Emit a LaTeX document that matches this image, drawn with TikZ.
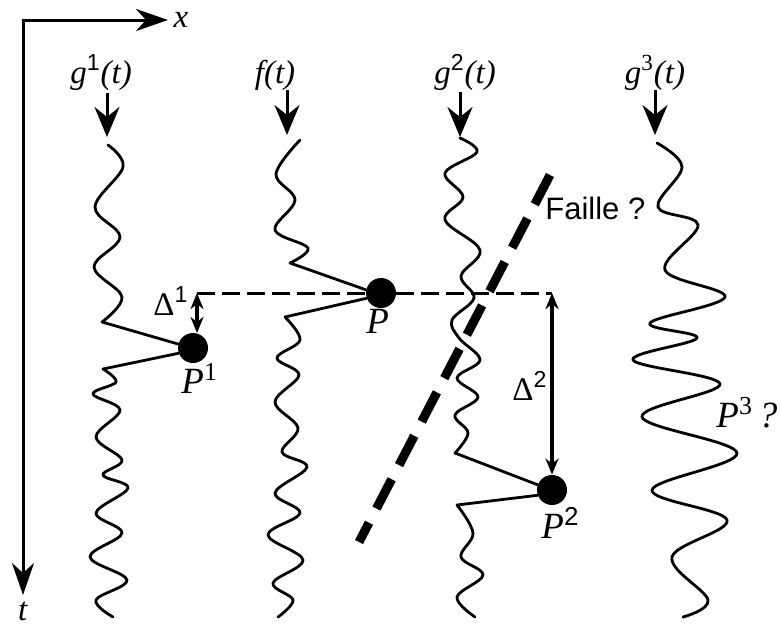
\documentclass[tikz,border=0pt]{standalone}
\usepackage{fontspec}
\setmainfont{Liberation Serif}
\setsansfont{Liberation Sans}
\usetikzlibrary{arrows.meta}
\begin{document}
\begin{tikzpicture}[x=0.5pt,y=-0.5pt,
  trace/.style={line width=1.4pt, line join=round, line cap=round},
  axis/.style={line width=1.5pt, line cap=rect, -{Stealth[length=16pt,width=11pt,inset=5pt]}},
  pointer/.style={line width=1.5pt, -{Stealth[length=15pt,width=12.5pt,inset=5pt]}},
  gap/.style={line width=2pt, {Stealth[length=8pt,width=6.5pt,inset=2.5pt]}-{Stealth[length=8pt,width=6.5pt,inset=2.5pt]}},
  refline/.style={line width=1.5pt, dash pattern=on 9pt off 3.5pt},
  fault/.style={line width=4.5pt, dash pattern=on 16.5pt off 8pt},
  dot/.style={circle, fill, inner sep=0pt, minimum size=15pt},
  lab/.style={font=\fontsize{16.5}{19}\selectfont, inner sep=0pt, anchor=base},
  plab/.style={font=\fontsize{18.5}{21}\selectfont, inner sep=0pt, anchor=base west},
  dlab/.style={font=\fontsize{16.5}{19}\selectfont, inner sep=0pt, anchor=base west},
]
\useasboundingbox (0,0) rectangle (780,628);

% axes
\coordinate (O) at (23,20);
\coordinate (xe) at (168,20);
\coordinate (te) at (23,595);
\draw[axis] (O) -- (xe);
\draw[axis] (O) -- (te);
\node[lab] (xl) at (181,27) {\textit{x}};
\node[lab] (tl) at (23,620) {\textit{t}};

% points
\node[dot] (P1) at (193,348) {};
\node[dot] (P) at (381,293) {};
\node[dot] (P2) at (552,490) {};

% trace labels and pointers
\node[lab] (g1l) at (101,83) {\textit{g}\textsuperscript{\sffamily 1}\textit{(t)}};
\node[lab] (fl) at (275,83) {\textit{f(t)}};
\node[lab] (g2l) at (465,83) {\textit{g}\textsuperscript{\sffamily 2}\textit{(t)}};
\node[lab] (g3l) at (655,83) {\textit{g}\textsuperscript{3}\textit{(t)}};
\coordinate (a1s) at (107,93);  \coordinate (a1e) at (107,137);
\coordinate (a2s) at (287,90);  \coordinate (a2e) at (287,135);
\coordinate (a3s) at (460,92);  \coordinate (a3e) at (460,137);
\coordinate (a4s) at (655,90);  \coordinate (a4e) at (655,135);
\draw[pointer] (a1s) -- (a1e);
\draw[pointer] (a2s) -- (a2e);
\draw[pointer] (a3s) -- (a3e);
\draw[pointer] (a4s) -- (a4e);

% trace g1
\draw[trace] plot[smooth, tension=0.6] coordinates {(108,145) (123,167) (95,207) (120,237) (94,267) (122,297) (102,322)} -- (P1.165);
\draw[trace] (P1.200) -- plot[smooth, tension=0.6] coordinates {(103,369) (116,382) (93,394) (120,410) (96,437) (122,460) (103,475) (128,488) (96,513) (122,533) (90,557) (127,580) (96,600) (113,617)};

% trace f
\draw[trace] plot[smooth, tension=0.6] coordinates {(300,140) (276,174) (295,200) (275,230) (308,248) (290,263)} -- (P.168);
\draw[trace] (P.200) -- plot[smooth, tension=0.6] coordinates {(285,317) (300,340) (277,358) (299,375) (275,402) (298,428) (282,452) (307,467) (275,493) (300,513) (268,535) (303,560) (273,583) (293,600) (278,617)};

% trace g2
\draw[trace] plot[smooth, tension=0.6] coordinates {(460,138) (477,152) (445,173) (463,197) (445,220) (480,250) (461,276) (474,298) (452,320) (459,338) (480,360) (457,378) (478,397) (455,415) (468,433) (455,453)} -- (P2.160);
\draw[trace] (P2.200) -- plot[smooth, tension=0.6] coordinates {(457,505) (473,533) (461,557) (483,575) (457,597) (475,617)};

% trace g3
\draw[trace] plot[smooth, tension=0.6] coordinates {(657,143) (682,167) (658,207) (698,225) (665,270) (725,297) (650,323) (697,338) (633,360) (720,384) (642,417) (737,453) (652,490) (727,520) (672,557) (708,600) (683,617)};

% reference line and offsets
\coordinate (d1) at (197,293);
\coordinate (d1b) at (197,333);
\coordinate (d2) at (552,293);
\draw[refline] (d1) -- (P) -- (d2);
\draw[gap] (d1) -- (d1b);
\draw[gap] (d2) -- (P2.north);

% fault
\coordinate (fa) at (550,175);
\coordinate (fb) at (359,542);
\draw[fault] (fa) -- (fb);
\node[anchor=base west, inner sep=0pt, font=\sffamily\fontsize{15.5}{18}\selectfont] (faille) at (545,219) {Faille ?};

% point labels
\node[dlab] (D1) at (153,315) {Δ\textsuperscript{\sffamily 1}};
\node[dlab] (D2) at (512,400) {Δ\textsuperscript{\sffamily 2}};
\node[plab] (Pl) at (366,333) {\textit{P}};
\node[plab] (P1l) at (181,393) {\textit{P}\textsuperscript{1}};
\node[plab] (P2l) at (541,538) {\textit{P}\textsuperscript{\sffamily 2}};
\node[plab] (P3l) at (716,427) {\textit{P}\textsuperscript{3}\kern3pt\textit{?}};
\end{tikzpicture}
\end{document}
